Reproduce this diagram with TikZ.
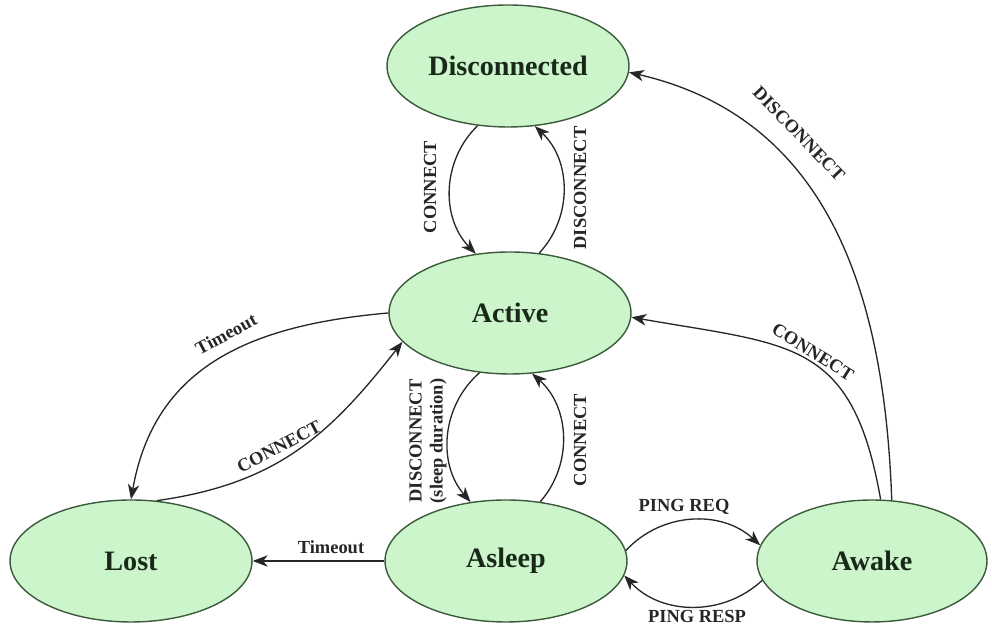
\documentclass[tikz,border=0pt]{standalone}
\usepackage{fontspec}
\setmainfont{Liberation Serif}
\usetikzlibrary{shapes.geometric,arrows.meta}
\definecolor{stfill}{RGB}{204,245,204}
\definecolor{stdraw}{RGB}{60,90,60}
\definecolor{sttext}{RGB}{25,40,25}
\tikzset{
  state/.style={ellipse, draw=stdraw, line width=0.8pt, fill=stfill, inner sep=0pt,
    minimum width=4.84cm, minimum height=2.44cm, text=sttext,
    font=\fontsize{16}{19}\selectfont\bfseries},
  edge/.style={draw=black!85, line width=0.75pt, -{Stealth[length=8.5pt,width=6.5pt,inset=2.5pt]}},
  lbl/.style={font=\fontsize{10.5}{12}\selectfont\bfseries, text=black!85, inner sep=0pt, align=center}
}
\begin{document}
\begin{tikzpicture}[x=0.02cm,y=0.02cm]
\useasboundingbox (0,0) rectangle (992,624);
\node[state] (disc) at (508,558) {Disconnected};
\node[state] (act) at (510,311) {Active};
\node[state] (lost) at (131,63) {Lost};
\node[state] (sleep) at (506,63) {Asleep};
\node[state, minimum width=4.6cm] (awake) at (872,63) {Awake};

\draw[edge] (disc.243) to[bend right=45] (act.120);
\draw[edge] (act.64) to[bend right=45] (disc.294);
\draw[edge] (act.243) to[bend right=45] (sleep.121);
\draw[edge] (sleep.60) to[bend right=45] (act.290);
\draw[edge] (act.180) to[out=185, in=80, looseness=1.1] (lost.90);
\draw[edge] (lost.67) to[out=8, in=232, looseness=1.05] (act.195);
\draw[edge] (sleep.180) -- (lost.0);
\draw[edge] (sleep.5) to[bend left=45] (awake.172);
\draw[edge] (awake.190) to[bend left=45] (sleep.353);
\draw[edge] (awake.82) to[out=100, in=-10, looseness=1.35] (act.358);
\draw[edge] (awake.72) to[out=92, in=-13, looseness=1.05] (disc.357);

\node[lbl, rotate=90] (l1) at (430,437) {CONNECT};
\node[lbl, rotate=90] (l2) at (580,436) {DISCONNECT};
\node[lbl, rotate=90] (l3) at (428,183) {DISCONNECT\\(sleep duration)};
\node[lbl, rotate=90] (l4) at (580,184) {CONNECT};
\node[lbl, rotate=28] (l5) at (226,290) {Timeout};
\node[lbl, rotate=28] (l6) at (279,177) {CONNECT};
\node[lbl] (l7) at (331,77) {Timeout};
\node[lbl] (l8) at (684,117) {PING REQ};
\node[lbl] (l9) at (697,8) {PING RESP};
\node[lbl, rotate=-32] (l10) at (813,272) {CONNECT};
\node[lbl, rotate=-46] (l11) at (799,490) {DISCONNECT};
\end{tikzpicture}
\end{document}
